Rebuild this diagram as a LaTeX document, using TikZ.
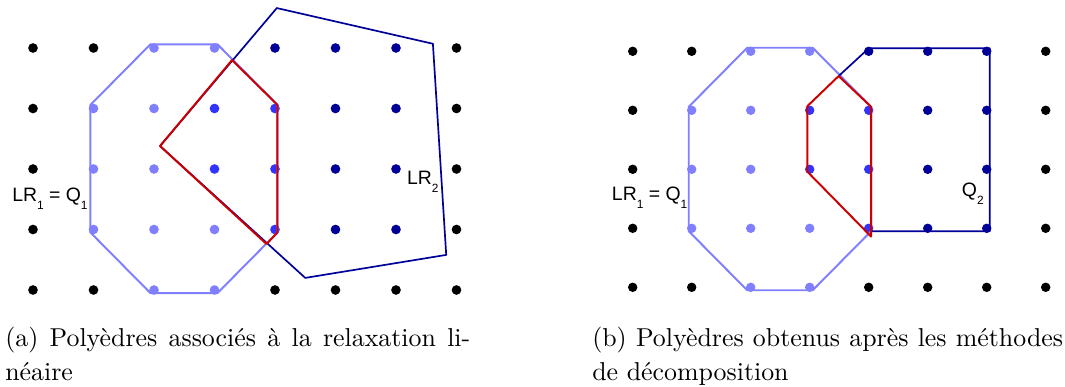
\documentclass[tikz,border=0pt]{standalone}
\usepackage{fontspec}
\newfontfamily\labelfont{Liberation Sans}
\newfontfamily\capfont{lmroman10-regular.otf}
\usetikzlibrary{positioning}
\definecolor{octablue}{RGB}{128,128,255}
\definecolor{interblue}{RGB}{51,51,255}
\definecolor{lrnavy}{RGB}{0,0,153}
\definecolor{interred}{RGB}{204,0,0}
\newcommand{\ind}[1]{\raisebox{-0.2cm}{\fontsize{8.5}{9}\selectfont #1}}
\newcommand{\pointgrid}{%
\foreach \x/\y in {0/0,0/1,0/2,0/3,0/4,7/0,7/1,7/2,7/3,7/4,1/0,1/4,4/0,5/0,6/0}
  \fill[black] (\x,\y) circle (0.08);
\foreach \x/\y in {2/4,3/4,1/3,2/3,1/2,2/2,1/1,2/1,3/1,2/0,3/0}
  \fill[octablue] (\x,\y) circle (0.08);
\foreach \x/\y in {3/3,4/3,3/2,4/2,4/1}
  \fill[interblue] (\x,\y) circle (0.08);
\foreach \x/\y in {4/4,5/4,6/4,5/3,6/3,5/2,6/2,5/1,6/1}
  \fill[lrnavy] (\x,\y) circle (0.08);}
\newcommand{\octagon}{%
\draw[octa] (1.94,4.06)--(3.05,4.06)--(4.04,3.06)--(4.04,0.95)--(3.05,-0.05)
  --(1.94,-0.05)--(0.95,0.95)--(0.95,3.06)--cycle;}

\begin{document}
\begin{tikzpicture}[
  octa/.style={octablue,line width=1.4pt,line join=round},
  lrtwo/.style={lrnavy,line width=1.2pt,line join=round},
  inter/.style={interred,line width=1.4pt,line join=round},
  lab/.style={font=\labelfont\fontsize{13.8}{14}\selectfont,inner sep=0pt,anchor=base west},
  captext/.style={font=\capfont\fontsize{18.4}{22}\selectfont,inner sep=0pt,anchor=base west}]
\useasboundingbox (0,0) rectangle (26.625,9.675);

\begin{scope}[shift={(0.825,2.425)},scale=1.5125]
\pointgrid
\octagon
\draw[lrtwo] (2.10,2.38)--(4.03,4.66)--(6.61,4.07)--(6.83,0.58)--(4.50,0.20)--cycle;
\draw[inter] (2.10,2.38)--(3.29,3.80)--(4.04,3.06)--(4.04,0.95)--(3.86,0.76)--cycle;
\node[lab] (lrqa) at (-0.347,1.47) {LR\ind{1} = Q\ind{1}};
\node[lab] (lrtwo) at (6.18,1.736) {LR\ind{2}};
\end{scope}

\begin{scope}[shift={(15.8175,2.4925)},scale=1.475]
\pointgrid
\octagon
\draw[lrtwo] (3.49,3.58)--(4,4.05)--(6.05,4.05)--(6.05,0.95)--(4.04,0.95);
\draw[inter] (3.49,3.58)--(2.96,3.07)--(2.96,1.96)--(4.04,0.86)--(4.04,3.06)--cycle;
\node[lab] (lrqb) at (-0.356,1.463) {LR\ind{1} = Q\ind{1}};
\node[lab] (qtwo) at (5.576,1.536) {Q\ind{2}};
\end{scope}

\node[captext] (capa) at (0.125,1.0075) {\makebox[11.625cm][s]{(a) Polyèdres associés à la relaxation li-}};
\node[captext] (capaa) at (0.125,0.17) {néaire};
\node[captext] (capb) at (14.8,1.0075) {\makebox[11.77cm][s]{(b) Polyèdres obtenus après les méthodes}};
\node[captext] (capbb) at (14.8,0.17) {de décomposition};
\end{tikzpicture}
\end{document}
